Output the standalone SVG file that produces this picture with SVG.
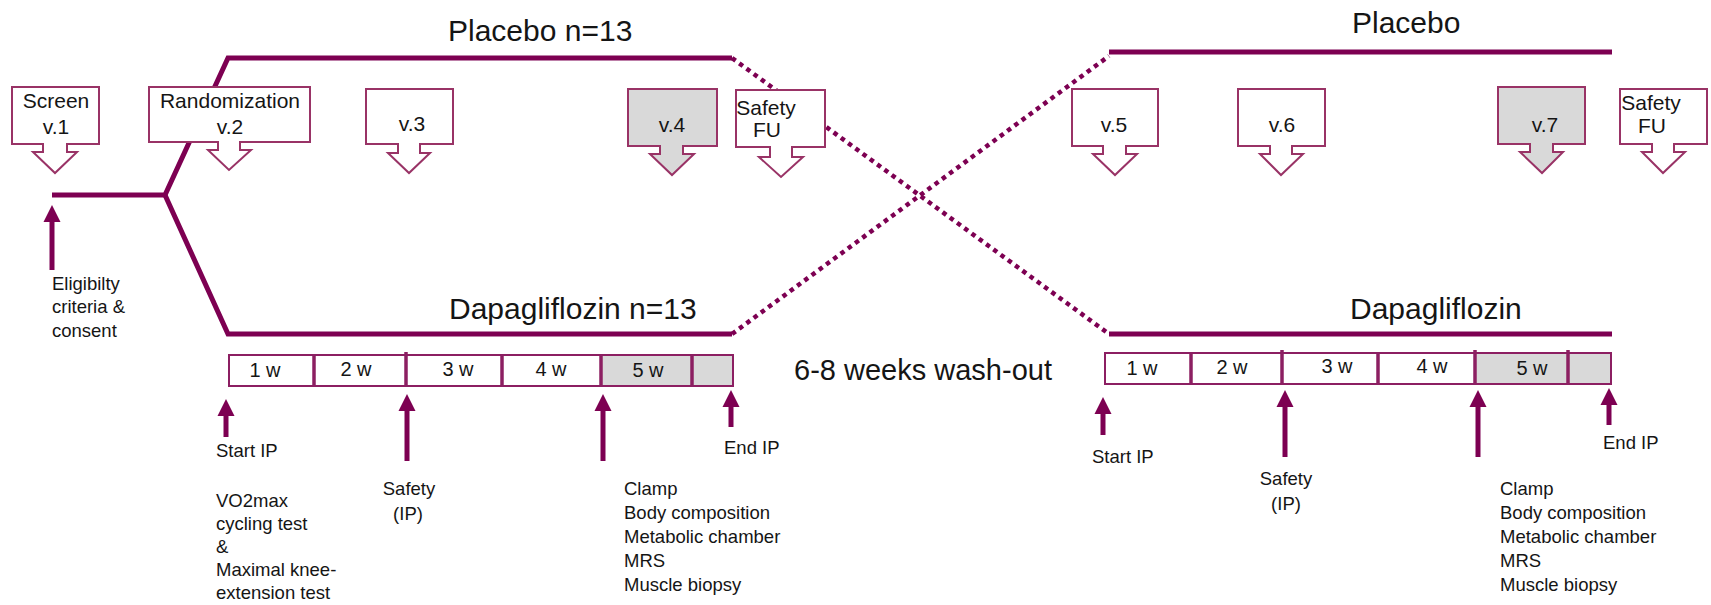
<svg xmlns="http://www.w3.org/2000/svg" width="1711" height="605" viewBox="0 0 1711 605">
<style>
text{font-family:"Liberation Sans",Arial,sans-serif;fill:#151515}
.title{font-size:30px}
.vis{font-size:21px;text-anchor:middle}
.sm{font-size:18.5px}
.wk{font-size:20px;text-anchor:middle}
.mid{text-anchor:middle}
.callout{fill:#fff;stroke:#993366;stroke-width:2}
.callout.grey{fill:#d9d9d9}
.arm{fill:none;stroke:#7d0052;stroke-width:5;stroke-linejoin:miter}
.dot{fill:none;stroke:#7d0052;stroke-width:4.5;stroke-dasharray:4.5 4.5}
.up{stroke:#7d0052;stroke-width:5;marker-end:url(#ah)}
.wbox{fill:#fff;stroke:#8c1f62;stroke-width:2}
.wgrey{fill:#d9d9d9;stroke:none}
.div{stroke:#8c1f62;stroke-width:3.5}
</style>
<defs>
<marker id="ah" markerUnits="userSpaceOnUse" markerWidth="18" markerHeight="18" refX="0" refY="9" orient="auto" viewBox="0 0 18 18">
<path d="M0,0.5 L17,9 L0,17.5 Z" fill="#7d0052"/>
</marker>
</defs>

<g id="connectors">
<path class="arm" d="M52,195 H165 L228,58 H732"/>
<path class="arm" d="M165,195 L228,334 H732"/>
<path class="dot" d="M732,58 L1109,334"/>
<path class="dot" d="M732,334 L1109,56"/>
<path class="arm" d="M1109,52 H1612"/>
<path class="arm" d="M1109,334 H1612"/>
<line class="up" x1="52" y1="270" x2="52" y2="222"/>
<line class="up" x1="226" y1="437" x2="226" y2="416"/>
<line class="up" x1="407" y1="461" x2="407" y2="411"/>
<line class="up" x1="603" y1="461" x2="603" y2="411"/>
<line class="up" x1="731" y1="427" x2="731" y2="407"/>
<line class="up" x1="1103" y1="435" x2="1103" y2="414"/>
<line class="up" x1="1285" y1="457" x2="1285" y2="407"/>
<line class="up" x1="1478" y1="457" x2="1478" y2="407"/>
<line class="up" x1="1609" y1="425" x2="1609" y2="405"/>
</g>

<g id="title-placebo-1"><text class="title" x="448" y="41">Placebo n=13</text></g>
<g id="title-dapa-1"><text class="title" x="449" y="319">Dapagliflozin n=13</text></g>
<g id="title-placebo-2"><text class="title" x="1352" y="33">Placebo</text></g>
<g id="title-dapa-2"><text class="title" x="1350" y="319">Dapagliflozin</text></g>

<g id="v1">
<path class="callout" d="M12,87 H99 V144 H67 V152 H77 L55,173 L33,152 H43 V144 H12 Z"/>
<text class="vis" x="56" y="108">Screen</text>
<text class="vis" x="56" y="134">v.1</text>
</g>
<g id="v2">
<path class="callout" d="M149,87 H310 V142 H240 V150 H251 L229,170 L208,150 H218 V142 H149 Z"/>
<text class="vis" x="230" y="108">Randomization</text>
<text class="vis" x="230" y="134">v.2</text>
</g>
<g id="v3">
<path class="callout" d="M366,89 H453 V144 H420 V153 H430 L409,173 L388,153 H398 V144 H366 Z"/>
<text class="vis" x="412" y="131">v.3</text>
</g>
<g id="v4">
<path class="callout grey" d="M628,89 H717 V146 H683 V154 H694 L672,175 L650,154 H660 V146 H628 Z"/>
<text class="vis" x="672" y="132">v.4</text>
</g>
<g id="safety-fu-1">
<path class="callout" d="M736,90 H825 V147 H792 V157 H803 L781,177 L759,157 H770 V147 H736 Z"/>
<text class="vis" x="766" y="115">Safety</text>
<text class="vis" x="767" y="137">FU</text>
</g>
<g id="v5">
<path class="callout" d="M1072,89 H1158 V146 H1126 V154 H1137 L1115,175 L1093,154 H1103 V146 H1072 Z"/>
<text class="vis" x="1114" y="132">v.5</text>
</g>
<g id="v6">
<path class="callout" d="M1238,89 H1325 V146 H1292 V154 H1303 L1281,175 L1260,154 H1270 V146 H1238 Z"/>
<text class="vis" x="1282" y="132">v.6</text>
</g>
<g id="v7">
<path class="callout grey" d="M1498,87 H1585 V144 H1553 V152 H1563 L1542,173 L1520,152 H1530 V144 H1498 Z"/>
<text class="vis" x="1545" y="132">v.7</text>
</g>
<g id="safety-fu-2">
<path class="callout" d="M1620,89 H1707 V144 H1674 V152 H1685 L1663,173 L1642,152 H1652 V144 H1620 Z"/>
<text class="vis" x="1651" y="110">Safety</text>
<text class="vis" x="1652" y="133">FU</text>
</g>

<g id="eligibility">
<text class="sm" x="52" y="290">Eligibilty</text>
<text class="sm" x="52" y="313">criteria &amp;</text>
<text class="sm" x="52" y="337">consent</text>
</g>

<g id="weeks-1">
<rect class="wbox" x="229" y="355" width="504" height="31"/>
<rect class="wgrey" x="601" y="356" width="131" height="29"/>
<line class="div" x1="314" y1="355" x2="314" y2="386"/>
<line class="div" x1="406" y1="352" x2="406" y2="386"/>
<line class="div" x1="502" y1="355" x2="502" y2="386"/>
<line class="div" x1="601" y1="355" x2="601" y2="386"/>
<line class="div" x1="692" y1="355" x2="692" y2="386"/>
<text class="wk" x="265" y="377">1 w</text>
<text class="wk" x="356" y="376">2 w</text>
<text class="wk" x="458" y="376">3 w</text>
<text class="wk" x="551" y="376">4 w</text>
<text class="wk" x="648" y="377">5 w</text>
</g>

<g id="weeks-2">
<rect class="wbox" x="1105" y="353" width="506" height="31"/>
<rect class="wgrey" x="1475" y="354" width="135" height="29"/>
<line class="div" x1="1191" y1="353" x2="1191" y2="384"/>
<line class="div" x1="1282" y1="350" x2="1282" y2="384"/>
<line class="div" x1="1378" y1="353" x2="1378" y2="384"/>
<line class="div" x1="1475" y1="350" x2="1475" y2="384"/>
<line class="div" x1="1568" y1="350" x2="1568" y2="384"/>
<text class="wk" x="1142" y="375">1 w</text>
<text class="wk" x="1232" y="374">2 w</text>
<text class="wk" x="1337" y="373">3 w</text>
<text class="wk" x="1432" y="373">4 w</text>
<text class="wk" x="1532" y="375">5 w</text>
</g>

<g id="washout"><text x="923" y="380" class="mid" style="font-size:29px">6-8 weeks wash-out</text></g>

<g id="start-ip-1">
<text class="sm" x="216" y="457">Start IP</text>
<text class="sm" x="216" y="507">VO2max</text>
<text class="sm" x="216" y="530">cycling test</text>
<text class="sm" x="216" y="553">&amp;</text>
<text class="sm" x="216" y="576">Maximal knee-</text>
<text class="sm" x="216" y="599">extension test</text>
</g>
<g id="safety-ip-1">
<text class="sm mid" x="409" y="495">Safety</text>
<text class="sm mid" x="408" y="520">(IP)</text>
</g>
<g id="clamp-1">
<text class="sm" x="624" y="495">Clamp</text>
<text class="sm" x="624" y="519">Body composition</text>
<text class="sm" x="624" y="543">Metabolic chamber</text>
<text class="sm" x="624" y="567">MRS</text>
<text class="sm" x="624" y="591">Muscle biopsy</text>
</g>
<g id="end-ip-1"><text class="sm" x="724" y="454">End IP</text></g>

<g id="start-ip-2"><text class="sm" x="1092" y="463">Start IP</text></g>
<g id="safety-ip-2">
<text class="sm mid" x="1286" y="485">Safety</text>
<text class="sm mid" x="1286" y="510">(IP)</text>
</g>
<g id="clamp-2">
<text class="sm" x="1500" y="495">Clamp</text>
<text class="sm" x="1500" y="519">Body composition</text>
<text class="sm" x="1500" y="543">Metabolic chamber</text>
<text class="sm" x="1500" y="567">MRS</text>
<text class="sm" x="1500" y="591">Muscle biopsy</text>
</g>
<g id="end-ip-2"><text class="sm" x="1603" y="449">End IP</text></g>
</svg>
